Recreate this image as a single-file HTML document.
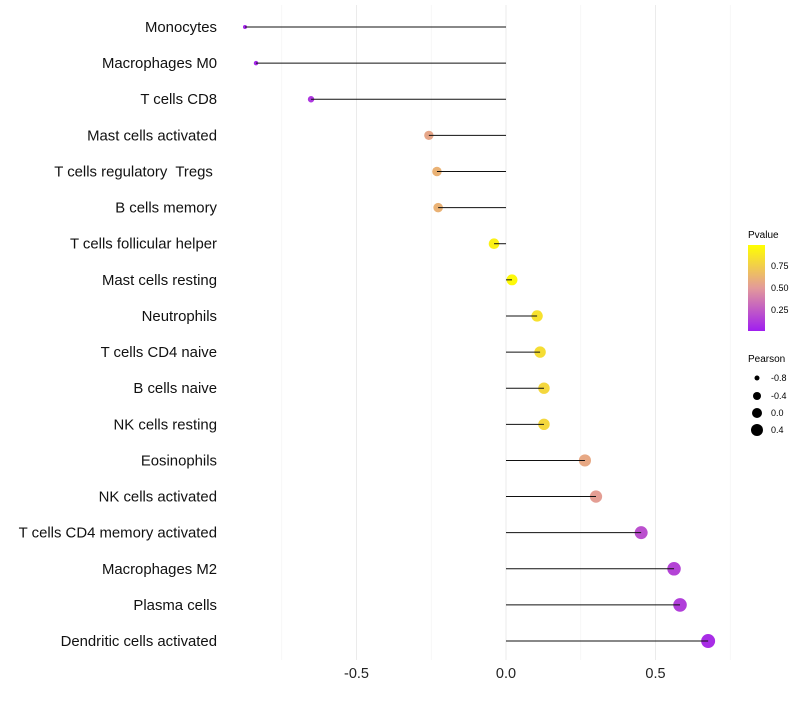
<!DOCTYPE html>
<html><head><meta charset="utf-8"><style>
body{margin:0;background:#fff;font-family:"Liberation Sans",sans-serif}
text{white-space:pre}
</style></head><body>
<svg id="chart" width="800" height="700" xmlns="http://www.w3.org/2000/svg">
<defs><linearGradient id="pg" x1="0" y1="1" x2="0" y2="0">
<stop offset="0" stop-color="#a01ef0"/><stop offset="0.5" stop-color="#e39a9a"/><stop offset="1" stop-color="#ffff00"/></linearGradient></defs>
<g id="grid"></g><g id="marks"></g><g id="labels"></g>
<g font-size="9">
<text x="748" y="238" font-size="10">Pvalue</text>
<rect x="748" y="245" width="17" height="86" fill="url(#pg)"/>
<text x="771" y="269">0.75</text><text x="771" y="291">0.50</text><text x="771" y="313">0.25</text>
</g>
<g font-size="9">
<text x="748" y="362" font-size="10">Pearson</text>
<circle cx="757" cy="378" r="2.5"/><text x="771" y="381">-0.8</text>
<circle cx="757" cy="396" r="4"/><text x="771" y="399">-0.4</text>
<circle cx="757" cy="413" r="5"/><text x="771" y="416">0.0</text>
<circle cx="757" cy="430" r="6"/><text x="771" y="433">0.4</text>
</g>
</svg>
<script>
const categories=["Monocytes","Macrophages M0","T cells CD8","Mast cells activated","T cells regulatory  Tregs ","B cells memory","T cells follicular helper","Mast cells resting","Neutrophils","T cells CD4 naive","B cells naive","NK cells resting","Eosinophils","NK cells activated","T cells CD4 memory activated","Macrophages M2","Plasma cells","Dendritic cells activated"];
const pearson=[-0.873,-0.836,-0.652,-0.258,-0.231,-0.227,-0.040,0.020,0.104,0.114,0.127,0.127,0.264,0.301,0.452,0.562,0.582,0.676];
const pvalue=[0.03,0.04,0.1,0.56,0.62,0.62,0.93,0.97,0.85,0.83,0.8,0.8,0.57,0.52,0.2,0.15,0.13,0.06];
const xTicks=[-0.5,0,0.5];
const xTickLabels=["-0.5","0.0","0.5"];
const NS="http://www.w3.org/2000/svg";
const x=v=>506+v*299, y=i=>27+i*36.12;
function mk(t,a,p){const e=document.createElementNS(NS,t);for(const k in a)e.setAttribute(k,a[k]);p.appendChild(e);return e;}
function lerp(a,b,t){return a.map((v,i)=>Math.round(v+(b[i]-v)*t));}
function col(p){const c0=[160,30,240],c1=[227,154,154],c2=[255,255,0];const c=p<0.5?lerp(c0,c1,p/0.5):lerp(c1,c2,(p-0.5)/0.5);return `rgb(${c})`;}
const grid=document.getElementById('grid'),marks=document.getElementById('marks'),labels=document.getElementById('labels');
[-0.75,-0.25,0.25,0.75].forEach(v=>{const l=mk('line',{x1:x(v),x2:x(v),y1:5,y2:660,stroke:'#f2f2f2','stroke-width':0.6},grid);

});
xTicks.forEach((v,i)=>{const l=mk('line',{x1:x(v),x2:x(v),y1:5,y2:660,stroke:'#ebebeb','stroke-width':1},grid);


const t=mk('text',{x:x(v),y:678,'text-anchor':'middle','font-size':14.5,fill:'#222'},labels);t.textContent=xTickLabels[i];

});
categories.forEach((c,i)=>{const gy=y(i);
const r=Math.sqrt(4+Math.max(0,pearson[i]+0.87)*29);
const pt=mk('circle',{cx:x(pearson[i]),cy:gy,r:r,fill:col(pvalue[i])},marks);


const s=mk('line',{x1:x(0),x2:x(pearson[i]),y1:gy,y2:gy,stroke:'#111','stroke-width':1},marks);


const t=mk('text',{x:217,y:gy+5,'text-anchor':'end','font-size':14.9,fill:'#111'},labels);t.textContent=c;

});
</script>
</body></html>
